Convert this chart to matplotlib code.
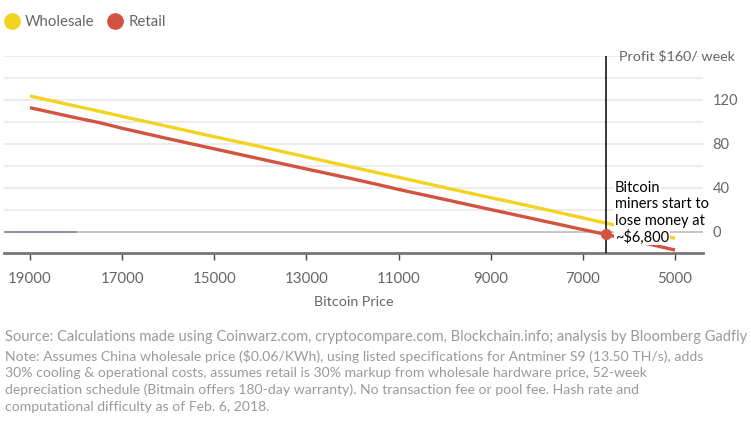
import matplotlib
matplotlib.use('Agg')
import matplotlib.pyplot as plt
from matplotlib.lines import Line2D

plt.rcParams['font.family'] = ['Lato', 'DejaVu Sans']

# data
price = [19000, 18000, 17500, 17000, 16000, 15000, 14000, 13000, 12000,
         11500, 11000, 10000, 9000, 8500, 8000, 7000, 6500, 6000, 5000]
wholesale = [123.6, 114.4, 109.8, 105.1, 95.9, 86.6, 77.6, 68.2, 58.9,
             54.3, 49.7, 40.4, 31.2, 26.8, 22.2, 12.8, 8.1, 3.5, -5.7]
retail = [113.0, 103.8, 99.5, 94.3, 84.8, 75.6, 66.4, 57.3, 48.3,
          43.6, 38.7, 29.6, 20.4, 15.9, 11.3, 2.2, -2.2, -6.8, -16.4]
breakeven_price = 6500
breakeven_profit = -1.5
xticks = [19000, 17000, 15000, 13000, 11000, 9000, 7000, 5000]
yticks = [0, 40, 80, 120]
grid_levels = [20, 40, 60, 80, 100, 120, 140, 160]

YELLOW = '#f3d31f'
RED = '#d2533f'
GREY = '#666666'

W, H = 751, 423
fig = plt.figure(figsize=(W / 100, H / 100), dpi=100)
ax = fig.add_axes([4 / W, 1 - 253 / H, 699 / W, 197 / H])
ax.set_xlim(19564, 4392)
ax.set_ylim(-19.1, 160)

for g in grid_levels:
    ax.axhline(g, color='#ececec', lw=1.4, zorder=0)
ax.axhline(0, color='#c4c6ca', lw=1.4, zorder=1)
ax.plot([19564, 18000], [0, 0], color='#8d929c', lw=1.4, zorder=1)

ax.plot(price, wholesale, color=YELLOW, lw=2.4, zorder=3, solid_capstyle='butt')
ax.plot(price, retail, color=RED, lw=2.4, zorder=3, solid_capstyle='butt')

ax.axvline(breakeven_price, ymin=0, ymax=1, color='black', lw=1.1, zorder=4)
ax.plot([breakeven_price], [breakeven_profit], 'o', color=RED, ms=7, zorder=6)

# annotation, each line with white background
ann = ['Bitcoin', 'miners start to', 'lose money at', '~$6,800']
for i, line in enumerate(ann):
    fig.text(615 / W, 1 - (188 + 16.3 * i) / H, line, fontsize=10.5,
             color='black', va='center', ha='left', zorder=10,
             bbox=dict(facecolor='white', edgecolor='none', pad=0.6))

for s in ['top', 'left', 'right']:
    ax.spines[s].set_visible(False)
ax.spines['bottom'].set_color('#777777')
ax.spines['bottom'].set_linewidth(2)

ax.set_xticks(xticks)
ax.set_xticklabels([str(t) for t in xticks])
ax.tick_params(axis='x', length=5, width=1, color='#444444', colors=GREY,
               labelsize=10.8, pad=9)
ax.yaxis.tick_right()
ax.set_yticks(yticks)
ax.tick_params(axis='y', length=0, colors=GREY, labelsize=10.5, pad=7)
for lab in ax.get_yticklabels():
    lab.set_horizontalalignment('left')
ax.set_xlabel('Bitcoin Price', color=GREY, fontsize=10.3, labelpad=7)

fig.text(619 / W, 1 - 56 / H, 'Profit $160/ week', color=GREY, fontsize=10.3,
         va='center', ha='left')

# legend
handles = [Line2D([], [], ls='', marker='o', ms=11, color=YELLOW),
           Line2D([], [], ls='', marker='o', ms=11, color=RED)]
fig.legend(handles, ['Wholesale', 'Retail'], loc='center left',
           bbox_to_anchor=(0 / W, 1 - 22 / H), ncol=2, frameon=False,
           handlelength=1.0, handletextpad=0.35, columnspacing=0.9,
           fontsize=10.8, labelcolor=GREY, borderaxespad=0, borderpad=0.3)

footer_color = '#9a9a9a'
fig.text(5 / W, 1 - 337 / H,
         'Source: Calculations made using Coinwarz.com, cryptocompare.com, '
         'Blockchain.info; analysis by Bloomberg Gadfly',
         color=footer_color, fontsize=10.5, va='center', ha='left')
note = ['Note: Assumes China wholesale price ($0.06/KWh), using listed specifications '
        'for Antminer S9 (13.50 TH/s), adds',
        '30% cooling & operational costs, assumes retail is 30% markup from wholesale '
        'hardware price, 52-week',
        'depreciation schedule (Bitmain offers 180-day warranty). No transaction fee '
        'or pool fee. Hash rate and',
        'computational difficulty as of Feb. 6, 2018.']
for i, line in enumerate(note):
    fig.text(5 / W, 1 - (356 + 17 * i) / H, line, color=footer_color,
             fontsize=10.1, va='center', ha='left')

fig.savefig('out.png', dpi=100)
